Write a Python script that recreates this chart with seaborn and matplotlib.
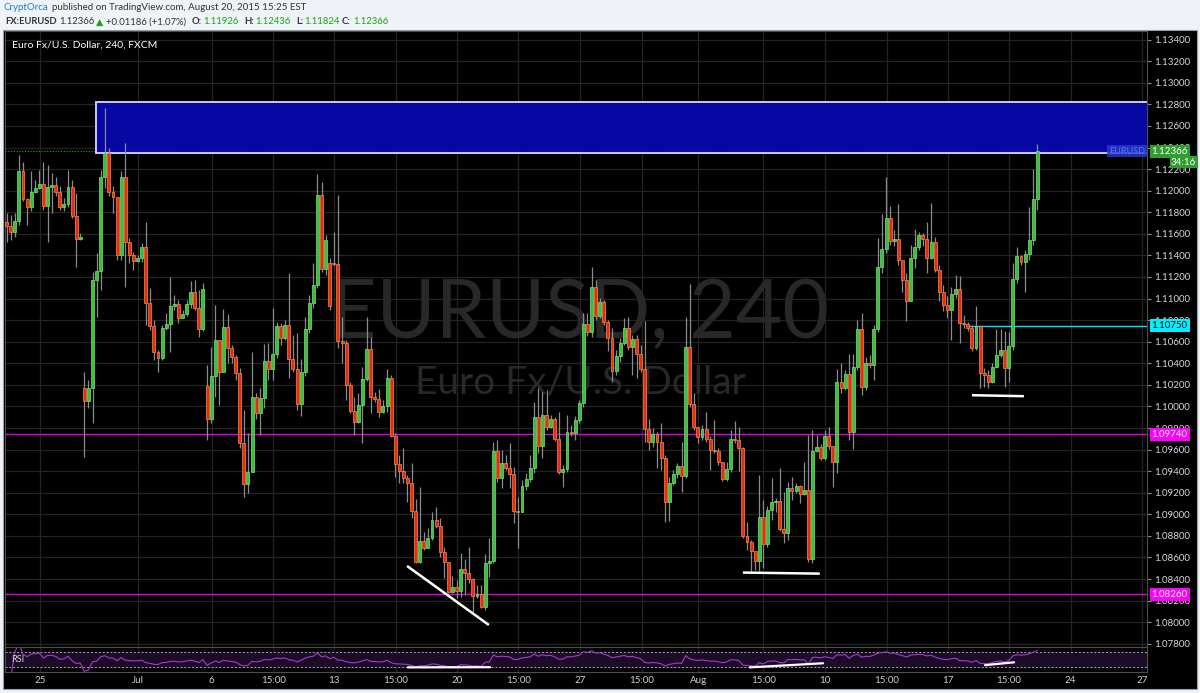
import numpy as np
import pandas as pd
import matplotlib
matplotlib.use("Agg")
import matplotlib.pyplot as plt
import seaborn as sns
from matplotlib.patches import Rectangle

# EUR/USD 240-minute candles, 25 Jun - 20 Aug 2015
closes = [
    1.11668, 1.11621, 1.11723, 1.12178, 1.11922, 1.11844, 1.11992, 1.12024, 1.12064, 1.11862,
    1.12033, 1.12048, 1.11992, 1.11853, 1.11875, 1.12033, 1.11767, 1.11551, 1.11575, 1.10054,
    1.10169, 1.11173, 1.11257, 1.12131, 1.12348, 1.11992, 1.11940, 1.11405, 1.12126, 1.11523,
    1.11405, 1.11352, 1.11375, 1.11477, 1.10957, 1.10749, 1.10508, 1.10447, 1.10725, 1.10765,
    1.10935, 1.10948, 1.10818, 1.10858, 1.10951, 1.11065, 1.10911, 1.10716, 1.11087, 1.09881,
    1.10283, 1.10617, 1.10317, 1.10740, 1.10545, 1.10462, 1.10314, 1.09659, 1.09281, 1.09390,
    1.10091, 1.09937, 1.10076, 1.10425, 1.10348, 1.10487, 1.10747, 1.10638, 1.10756, 1.10438,
    1.10348, 1.10023, 1.10323, 1.10719, 1.10957, 1.11127, 1.11962, 1.11275, 1.11544, 1.10935,
    1.11322, 1.10610, 1.10586, 1.10200, 1.09961, 1.09859, 1.10014, 1.10252, 1.10533, 1.10091,
    1.10067, 1.09952, 1.10005, 1.10267, 1.09727, 1.09464, 1.09405, 1.09334, 1.09294, 1.09034,
    1.08561, 1.08756, 1.08691, 1.08783, 1.08948, 1.08895, 1.08648, 1.08555, 1.08277, 1.08323,
    1.08292, 1.08493, 1.08459, 1.08400, 1.08243, 1.08261, 1.08144, 1.08546, 1.08570, 1.09587,
    1.09334, 1.09473, 1.09427, 1.09371, 1.09034, 1.09025, 1.09266, 1.09325, 1.09427, 1.09906,
    1.09637, 1.09921, 1.09813, 1.09884, 1.09696, 1.09390, 1.09418, 1.09767, 1.09757, 1.09875,
    1.10030, 1.10765, 1.10694, 1.11111, 1.10839, 1.10972, 1.10781, 1.10633, 1.10332, 1.10468,
    1.10586, 1.10725, 1.10555, 1.10623, 1.10484, 1.10345, 1.09792, 1.09668, 1.09742, 1.09674,
    1.09520, 1.09117, 1.09288, 1.09371, 1.09448, 1.09356, 1.10549, 1.10021, 1.09807, 1.09714,
    1.09792, 1.09696, 1.09597, 1.09590, 1.09488, 1.09325, 1.09418, 1.09696, 1.09689, 1.09612,
    1.08799, 1.08741, 1.08663, 1.08570, 1.08978, 1.08725, 1.09040, 1.09117, 1.09124, 1.08861,
    1.08830, 1.09247, 1.09219, 1.09263, 1.09189, 1.09226, 1.08583, 1.09587, 1.09622, 1.09525,
    1.09727, 1.09634, 1.09488, 1.10230, 1.10169, 1.10299, 1.09767, 1.10369, 1.10716, 1.10178,
    1.10401, 1.10385, 1.10716, 1.11297, 1.11461, 1.11746, 1.11538, 1.11551, 1.11359, 1.11173,
    1.10979, 1.11380, 1.11482, 1.11588, 1.11554, 1.11380, 1.11523, 1.11266, 1.11065, 1.10941,
    1.10895, 1.11041, 1.11087, 1.10777, 1.10762, 1.10725, 1.10540, 1.10747, 1.10308, 1.10292,
    1.10230, 1.10369, 1.10478, 1.10524, 1.10360, 1.10561, 1.11180, 1.11396, 1.11343, 1.11414,
    1.11544, 1.11926, 1.12366,
]
highs = [
    1.11795, 1.11776, 1.11795, 1.12333, 1.12270, 1.11934, 1.12178, 1.12101, 1.12193, 1.12270,
    1.12240, 1.12166, 1.12131, 1.12039, 1.11931, 1.12193, 1.12101, 1.11977, 1.11609, 1.10323,
    1.10246, 1.11250, 1.11421, 1.12193, 1.12766, 1.12395, 1.12039, 1.11943, 1.12178, 1.12441,
    1.11563, 1.11436, 1.11405, 1.11514, 1.11714, 1.11096, 1.10802, 1.10524, 1.10756, 1.10867,
    1.11204, 1.11034, 1.10988, 1.10895, 1.10988, 1.11158, 1.11173, 1.11081, 1.11143, 1.10385,
    1.10555, 1.10941, 1.10617, 1.10902, 1.10855, 1.10570, 1.10478, 1.10357, 1.09968, 1.09752,
    1.10508, 1.10128, 1.10169, 1.10580, 1.10592, 1.10916, 1.10787, 1.10772, 1.10802, 1.11241,
    1.10663, 1.10685, 1.10438, 1.10827, 1.11034, 1.11328, 1.12156, 1.12079, 1.11591, 1.11377,
    1.11618, 1.11962, 1.10833, 1.10617, 1.10230, 1.10091, 1.10122, 1.10369, 1.10833, 1.10647,
    1.10135, 1.10160, 1.10060, 1.10348, 1.10292, 1.09754, 1.09550, 1.09618, 1.09365, 1.09479,
    1.09139, 1.09256, 1.08839, 1.08870, 1.09025, 1.09065, 1.08963, 1.08700, 1.08558, 1.08428,
    1.08391, 1.08639, 1.08583, 1.08697, 1.08410, 1.08345, 1.08345, 1.08632, 1.08778, 1.09674,
    1.09689, 1.09597, 1.09550, 1.09659, 1.09434, 1.09164, 1.09318, 1.09383, 1.09550, 1.10045,
    1.10169, 1.10137, 1.10153, 1.09921, 1.09903, 1.09952, 1.09458, 1.09921, 1.09829, 1.09912,
    1.10060, 1.10864, 1.10864, 1.11297, 1.11173, 1.11006, 1.10988, 1.10802, 1.10731, 1.10524,
    1.10635, 1.10818, 1.10833, 1.10663, 1.10663, 1.10570, 1.10793, 1.09881, 1.09801, 1.09764,
    1.09844, 1.09550, 1.09349, 1.09411, 1.09473, 1.09668, 1.10833, 1.11136, 1.10122, 1.09813,
    1.09829, 1.09952, 1.09727, 1.09875, 1.09615, 1.09485, 1.09485, 1.09782, 1.09868, 1.09813,
    1.09627, 1.08932, 1.08762, 1.08651, 1.09365, 1.09133, 1.09077, 1.09334, 1.09152, 1.09427,
    1.09210, 1.09303, 1.09349, 1.09288, 1.09272, 1.09488, 1.09736, 1.09782, 1.09736, 1.09652,
    1.09782, 1.09813, 1.09634, 1.10345, 1.10401, 1.10339, 1.10487, 1.10487, 1.10802, 1.10870,
    1.10462, 1.10478, 1.10756, 1.11560, 1.11783, 1.12131, 1.11860, 1.11637, 1.11878, 1.11359,
    1.11235, 1.11498, 1.11646, 1.11621, 1.11609, 1.11714, 1.11885, 1.11572, 1.11312, 1.11127,
    1.11025, 1.11111, 1.11220, 1.11213, 1.10849, 1.10784, 1.10756, 1.10932, 1.10756, 1.10357,
    1.10339, 1.10403, 1.10716, 1.10716, 1.10700, 1.10694, 1.11328, 1.11477, 1.11405, 1.11451,
    1.11848, 1.12200, 1.12436,
]
lows = [
    1.11526, 1.11544, 1.11572, 1.11683, 1.11906, 1.11683, 1.11807, 1.11980, 1.12017, 1.11822,
    1.11528, 1.11795, 1.11946, 1.11822, 1.11807, 1.11853, 1.11748, 1.11297, 1.11544, 1.09535,
    1.09983, 1.09844, 1.10833, 1.11081, 1.12024, 1.11946, 1.11792, 1.11359, 1.11359, 1.11111,
    1.11328, 1.11266, 1.11340, 1.11340, 1.10756, 1.10710, 1.10431, 1.10323, 1.10431, 1.10710,
    1.10508, 1.10895, 1.10775, 1.10821, 1.10839, 1.10914, 1.10895, 1.10647, 1.10700, 1.09689,
    1.09850, 1.10091, 1.10014, 1.10320, 1.10401, 1.10401, 1.10246, 1.09612, 1.09164, 1.09195,
    1.09390, 1.09881, 1.09736, 1.09983, 1.10246, 1.10246, 1.10450, 1.10570, 1.10617, 1.10267,
    1.10320, 1.09968, 1.09912, 1.10283, 1.10682, 1.10914, 1.11096, 1.11250, 1.11220, 1.10895,
    1.11303, 1.10543, 1.10401, 1.10060, 1.09937, 1.09736, 1.09847, 1.09659, 1.10237, 1.09937,
    1.10042, 1.09906, 1.09940, 1.09949, 1.09720, 1.09349, 1.09288, 1.09288, 1.09117, 1.08963,
    1.08546, 1.08546, 1.08669, 1.08688, 1.08762, 1.08873, 1.08607, 1.08407, 1.08268, 1.08268,
    1.08221, 1.08236, 1.08252, 1.08360, 1.08097, 1.08221, 1.08131, 1.08113, 1.08422, 1.08549,
    1.09303, 1.09242, 1.09411, 1.09242, 1.08917, 1.08685, 1.09022, 1.09226, 1.09300, 1.09383,
    1.09572, 1.09520, 1.09782, 1.09801, 1.09680, 1.09374, 1.09251, 1.09393, 1.09727, 1.09689,
    1.09847, 1.09998, 1.10654, 1.10647, 1.10802, 1.10821, 1.10756, 1.10518, 1.10230, 1.10292,
    1.10416, 1.10570, 1.10524, 1.10292, 1.10267, 1.10320, 1.09674, 1.09597, 1.09625, 1.09427,
    1.09411, 1.08932, 1.08940, 1.09272, 1.09337, 1.09210, 1.09337, 1.09998, 1.09782, 1.09659,
    1.09689, 1.09671, 1.09411, 1.09569, 1.09458, 1.09309, 1.09309, 1.09393, 1.09662, 1.09403,
    1.08781, 1.08669, 1.08477, 1.08484, 1.08477, 1.08500, 1.08697, 1.08943, 1.09022, 1.08846,
    1.08731, 1.08762, 1.09133, 1.09198, 1.09102, 1.09179, 1.08558, 1.08546, 1.09578, 1.09504,
    1.09504, 1.09606, 1.09251, 1.09381, 1.10122, 1.10153, 1.09689, 1.09603, 1.10339, 1.10107,
    1.10153, 1.10357, 1.10246, 1.10694, 1.11235, 1.11426, 1.11498, 1.11489, 1.11312, 1.11065,
    1.10793, 1.10979, 1.11282, 1.11452, 1.11489, 1.11241, 1.11368, 1.11247, 1.10979, 1.10886,
    1.10821, 1.10617, 1.11006, 1.10586, 1.10728, 1.10700, 1.10515, 1.10524, 1.10169, 1.10184,
    1.10169, 1.10218, 1.10357, 1.10459, 1.10178, 1.10230, 1.10524, 1.11143, 1.11312, 1.11065,
    1.11359, 1.11498, 1.11824,
]
# bars whose open is not the previous close (first bar and weekend gaps)
gap_opens = {0: 1.11714, 19: 1.10169, 49: 1.10193, 79: 1.11334, 80: 1.11334}

tick_pos = [8.1, 32.1, 50.1, 65.2, 80.1, 95.1, 110.2, 125.1, 140.2, 155.3,
            169.1, 185.0, 200.1, 215.2, 230.1, 245.0, 260.1, 277.6]
tick_labels = ["25", "Jul", "6", "15:00", "13", "15:00", "20", "15:00", "27", "15:00",
               "Aug", "15:00", "10", "15:00", "17", "15:00", "24", "27"]

price_ticks = np.round(np.arange(1.078, 1.1341, 0.002), 3)

zone_start, zone_low, zone_high = 21.8, 1.12351, 1.12824
cyan_level, cyan_start = 1.10750, 234.7
magenta_levels = [1.09740, 1.08260]
last_price = 1.12366
# hand-drawn lines on the chart: (bar, price) pairs
trend_lines = [((97.9, 1.08521), (117.9, 1.07974)),
               ((180.0, 1.08460), (198.8, 1.08450)),
               ((236.0, 1.10104), (248.7, 1.10095))]
rsi_lines = [((98.1, 29.0), (118.2, 29.5)),
             ((181.7, 29.0), (199.6, 40.0)),
             ((239.2, 35.0), (246.3, 42.5))]

# ---------------------------------------------------------------
df = pd.DataFrame({"close": closes, "high": highs, "low": lows})
df["open"] = df["close"].shift(1)
for i, v in gap_opens.items():
    df.loc[i, "open"] = v
df["high"] = df[["high", "open", "close"]].max(axis=1)
df["low"] = df[["low", "open", "close"]].min(axis=1)
df["up"] = df["close"] >= df["open"]
df["bar"] = np.arange(len(df))

delta = df["close"].diff()
gain = delta.clip(lower=0).ewm(alpha=1 / 14, adjust=True).mean()
loss = (-delta.clip(upper=0)).ewm(alpha=1 / 14, adjust=True).mean()
df["rsi"] = 100 - 100 / (1 + gain / loss)

sns.set_theme(style="dark", rc={"axes.facecolor": "black", "figure.facecolor": "#eff2f7"})
plt.rcParams["font.family"] = ["Lato", "DejaVu Sans"]

fig = plt.figure(figsize=(12, 6.93), dpi=100)
W, H = 1200, 693
fig.patches.append(Rectangle((3 / W, 4 / H), 1194 / W, 659 / H, transform=fig.transFigure,
                             facecolor="black", edgecolor="#9aa0a8", lw=0.8, zorder=-5))

ax = fig.add_axes([5 / W, (H - 647) / H, 1142 / W, 616 / H])
ax_rsi = fig.add_axes([5 / W, (H - 672) / H, 1142 / W, 25 / H], sharex=ax)
xmin, xmax = -0.4, 278.8

grid_c = "#242424"
for a in (ax, ax_rsi):
    a.set_facecolor("black")
    for s in a.spines.values():
        s.set_color("#4d4d4d")
        s.set_linewidth(0.8)
    for t in tick_pos:
        a.axvline(t, color=grid_c, lw=0.9, zorder=0)

for p in price_ticks:
    ax.axhline(p, color=grid_c, lw=0.9, zorder=0)

# watermark
ax.text(0.5035, 0.539, "EURUSD, 240", transform=ax.transAxes, ha="center", va="center",
        fontsize=58, color="#282828", zorder=0.5)
ax.text(0.5035, 0.4286, "Euro Fx/U.S. Dollar", transform=ax.transAxes, ha="center",
        va="center", fontsize=28, color="#282828", zorder=0.5)

# supply zone
ax.add_patch(Rectangle((zone_start, zone_low), xmax - zone_start + 5, zone_high - zone_low,
                       facecolor=(0.03, 0.03, 0.70, 0.92), edgecolor="#c9c9ff", lw=1.4, zorder=2))
ax.axhline(last_price, color="#2f9e2f", ls=(0, (1, 1.5)), lw=0.8, zorder=1.5)
ax.hlines(cyan_level, cyan_start, xmax, color="#00e0ff", lw=1.0, zorder=1.5)
for lv in magenta_levels:
    ax.axhline(lv, color="#e000e0", lw=1.0, zorder=1.5)

# candles
ax.vlines(df["bar"], df["low"], df["high"], color="#8c8c8c", lw=0.9, zorder=3)
body_lo = df[["open", "close"]].min(axis=1)
body_h = (df["close"] - df["open"]).abs().clip(lower=0.00004)
ax.bar(df["bar"], body_h, bottom=body_lo, width=0.72,
       color=np.where(df["up"], "#3cbe3c", "#e52b1c"),
       edgecolor=np.where(df["up"], "#7be27b", "#ff8a3a"), linewidth=0.5, zorder=4)

for (x0, y0), (x1, y1) in trend_lines:
    ax.plot([x0, x1], [y0, y1], color="white", lw=1.8, zorder=5, solid_capstyle="butt")

ax.set_xlim(xmin, xmax)
ax.set_ylim(1.0777, 1.1348)
ax.yaxis.tick_right()
ax.set_yticks(price_ticks)
ax.set_yticklabels([f"{p:.5f}" for p in price_ticks])
ax.tick_params(axis="y", colors="#8c8c8c", labelcolor="#d8d8d8", labelsize=7, length=3,
               width=0.8, pad=2, right=True)
ax.tick_params(axis="x", bottom=False, labelbottom=False)
ax.set_xlabel("")
ax.set_ylabel("")

# price tags on the scale
tag = dict(transform=ax.get_yaxis_transform(), fontsize=7, va="center", ha="left", zorder=10,
           clip_on=False)
ax.text(1.004, last_price, "1.12366", color="white",
        bbox=dict(boxstyle="square,pad=0.2", fc="#2f9e2f", ec="none"), **tag)
ax.text(1.021, 1.12262, "34:16", color="white",
        bbox=dict(boxstyle="square,pad=0.15", fc="#2f9e2f", ec="none"), **tag)
ax.text(1.004, cyan_level, "1.10750", color="black",
        bbox=dict(boxstyle="square,pad=0.2", fc="#00f0ff", ec="none"), **tag)
for lv in magenta_levels:
    ax.text(1.004, lv, f"{lv:.5f}", color="white",
            bbox=dict(boxstyle="square,pad=0.2", fc="#ff00ff", ec="none"), **tag)
ax.text(0.9985, last_price, "EURUSD", transform=ax.get_yaxis_transform(), fontsize=6.5,
        color="#5b72ff", ha="right", va="center", zorder=10,
        bbox=dict(boxstyle="square,pad=0.2", fc="#2837c8", ec="none", alpha=0.85))

ax.text(0.006, 0.985, "Euro Fx/U.S. Dollar, 240, FXCM", transform=ax.transAxes,
        color="white", fontsize=7.5, va="top", ha="left")

# RSI pane
ax_rsi.axhspan(30, 70, color="#1d0c28", zorder=0.5)
for lv in (30, 70):
    ax_rsi.axhline(lv, color="#a8a8a8", lw=0.7, ls=(0, (2, 2)), zorder=1)
sns.lineplot(data=df, x="bar", y="rsi", ax=ax_rsi, color="#a53ad0", lw=0.8, zorder=2)
for (x0, y0), (x1, y1) in rsi_lines:
    ax_rsi.plot([x0, x1], [y0, y1], color="white", lw=1.6, zorder=3)
ax_rsi.set_ylim(16.7, 83.3)
ax_rsi.set_yticks([])
ax_rsi.set_xticks(tick_pos)
ax_rsi.set_xticklabels(tick_labels)
ax_rsi.tick_params(axis="x", colors="#d0d0d0", labelsize=7, length=0, pad=3)
ax_rsi.set_xlabel("")
ax_rsi.set_ylabel("")
ax_rsi.text(0.005, 0.5, "RSI", transform=ax_rsi.transAxes, color="#d8d8d8", fontsize=6.5,
            va="center", ha="left")
ax_rsi.set_xlim(xmin, xmax)

# header
def head(xpix, ypix, s, color="#333333", weight="normal", size=7):
    fig.text(xpix / W, 1 - ypix / H, s, color=color, fontsize=size, fontweight=weight,
             va="center", ha="left")

head(4, 8, "CryptOrca", color="#1f7fc8")
head(52, 8, "published on TradingView.com, August 20, 2015 15:25 EST")
head(5, 22, "FX:EURUSD", weight="bold", size=6.8)
head(59, 22, "1.12366", size=6.8)
head(96, 22, "\u25b2", color="#1aa01a", size=6.8)
head(106, 22, "+0.01186 (+1.07%)", size=6.8)
head(192, 22, "O:", weight="bold", size=6.8)
head(203, 22, "1.11926", color="#1aa01a", size=6.8)
head(244, 22, "H:", weight="bold", size=6.8)
head(255, 22, "1.12436", color="#1aa01a", size=6.8)
head(296, 22, "L:", weight="bold", size=6.8)
head(304, 22, "1.11824", color="#1aa01a", size=6.8)
head(342, 22, "C:", weight="bold", size=6.8)
head(353, 22, "1.12366", color="#1aa01a", size=6.8)

fig.savefig("out.png", dpi=100)
